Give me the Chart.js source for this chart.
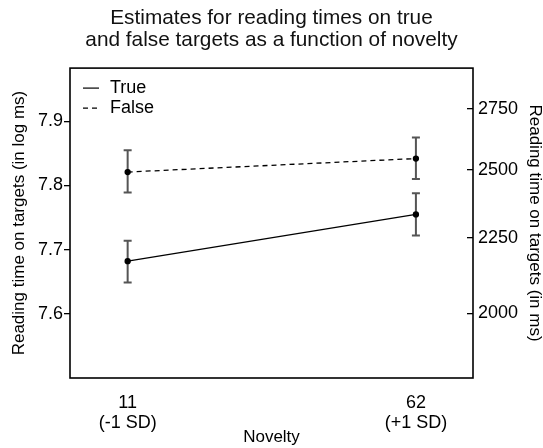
<!DOCTYPE html>
<html>
<head>
<meta charset="utf-8">
<script src="https://cdn.jsdelivr.net/npm/chart.js@4"></script>
<style>
  html, body { margin: 0; padding: 0; background: #fff; }
  #wrap { width: 543px; height: 448px; }
</style>
</head>
<body>
<div id="wrap"><canvas id="chart"></canvas></div>
<script>
// novelty values at -1 SD and +1 SD
const novelty = [11, 62]
const noveltyLabels = [['11', '(-1 SD)'], ['62', '(+1 SD)']]

// estimates in log ms
const trueMean = [7.682, 7.755]
const trueLow = [7.649, 7.722]
const trueHigh = [7.714, 7.788]
const falseMean = [7.821, 7.842]
const falseLow = [7.789, 7.810]
const falseHigh = [7.855, 7.875]

const logTicks = [7.6, 7.7, 7.8, 7.9]
const msTicks = [2000, 2250, 2500, 2750]

Chart.defaults.font.family = "'Liberation Sans', Arial, sans-serif"
Chart.defaults.color = '#000'

const errorBars = {
  id: 'errorBars',
  beforeDatasetsDraw(chart) {
    const ctx = chart.ctx
    const x = chart.scales.x
    const y = chart.scales.y
    ctx.save()
    ctx.strokeStyle = '#555'
    ctx.lineWidth = 2
    chart.data.datasets.forEach(ds => {
      ds.low.forEach((lo, i) => {
        const px = x.getPixelForValue(novelty[i])
        const y1 = y.getPixelForValue(lo)
        const y2 = y.getPixelForValue(ds.high[i])
        ctx.beginPath()
        ctx.moveTo(px, y1); ctx.lineTo(px, y2)
        ctx.moveTo(px - 4, y1); ctx.lineTo(px + 4, y1)
        ctx.moveTo(px - 4, y2); ctx.lineTo(px + 4, y2)
        ctx.stroke()
      })
    })
    ctx.restore()
  }
}

const frame = {
  id: 'frame',
  afterDraw(chart) {
    const { ctx, chartArea: a } = chart
    ctx.save()
    ctx.strokeStyle = '#000'
    ctx.lineWidth = 1.6
    ctx.strokeRect(a.left, a.top, a.right - a.left, a.bottom - a.top)

    // legend inside top left
    ctx.font = "18px 'Liberation Sans', Arial, sans-serif"
    ctx.textBaseline = 'middle'
    ctx.fillStyle = '#000'
    chart.data.datasets.forEach((ds, i) => {
      const ly = a.top + 20 + i * 20
      ctx.beginPath()
      ctx.lineWidth = 1.2
      ctx.setLineDash(ds.borderDash || [])
      ctx.moveTo(a.left + 13, ly)
      ctx.lineTo(a.left + 29, ly)
      ctx.stroke()
      ctx.setLineDash([])
      ctx.fillText(ds.label, a.left + 40, ly)
    })
    ctx.restore()
  }
}

new Chart(document.getElementById('chart'), {
  type: 'line',
  data: {
    datasets: [
      {
        label: 'True',
        data: novelty.map((v, i) => ({ x: v, y: trueMean[i] })),
        low: trueLow,
        high: trueHigh,
        borderColor: '#000',
        backgroundColor: '#000',
        borderWidth: 1.3,
        pointRadius: 2.5,
        borderDash: []
      },
      {
        label: 'False',
        data: novelty.map((v, i) => ({ x: v, y: falseMean[i] })),
        low: falseLow,
        high: falseHigh,
        borderColor: '#000',
        backgroundColor: '#000',
        borderWidth: 1.3,
        pointRadius: 2.5,
        borderDash: [5, 4]
      }
    ]
  },
  options: {
    responsive: true,
    maintainAspectRatio: false,
    animation: false,
    layout: { padding: 0 },
    plugins: {
      legend: { display: false },
      tooltip: { enabled: false },
      title: {
        display: true,
        text: ['Estimates for reading times on true', 'and false targets as a function of novelty'],
        font: { size: 20.8, weight: 'normal', lineHeight: 1.06 },
        color: '#111',
        padding: { top: 7, bottom: 17 }
      }
    },
    scales: {
      x: {
        type: 'linear',
        min: 0.8,
        max: 72.1,
        afterBuildTicks: s => { s.ticks = novelty.map(v => ({ value: v })) },
        afterFit: s => { s.height = 70 },
        ticks: {
          callback: (v, i) => noveltyLabels[i],
          font: { size: 18, lineHeight: 1.1 },
          padding: 15,
          maxRotation: 0
        },
        grid: { display: false, drawTicks: false },
        border: { display: false },
        title: { display: true, text: 'Novelty', font: { size: 17 }, padding: 0 }
      },
      y: {
        position: 'left',
        min: 7.5,
        max: 7.983,
        afterBuildTicks: s => { s.ticks = logTicks.map(v => ({ value: v })) },
        afterFit: s => { s.width = 70 },
        ticks: {
          callback: v => v.toFixed(1),
          font: { size: 18 },
          padding: 1
        },
        grid: { drawOnChartArea: false, tickLength: 6, color: '#000', lineWidth: 1.3 },
        border: { display: false },
        title: {
          display: true,
          text: 'Reading time on targets (in log ms)',
          font: { size: 17 },
          padding: { top: 9, bottom: 0 }
        }
      },
      y2: {
        position: 'right',
        min: 7.5,
        max: 7.983,
        afterBuildTicks: s => { s.ticks = msTicks.map(v => ({ value: Math.log(v) })) },
        afterFit: s => { s.width = 70 },
        ticks: {
          callback: v => String(Math.round(Math.exp(v))),
          font: { size: 18 },
          padding: 11
        },
        grid: { drawOnChartArea: false, tickLength: -6, color: '#000', lineWidth: 1.3 },
        border: { display: false },
        title: {
          display: true,
          text: 'Reading time on targets (in ms)',
          font: { size: 17, lineHeight: 1 },
          padding: 0
        }
      }
    }
  },
  plugins: [errorBars, frame]
})
</script>
</body>
</html>
